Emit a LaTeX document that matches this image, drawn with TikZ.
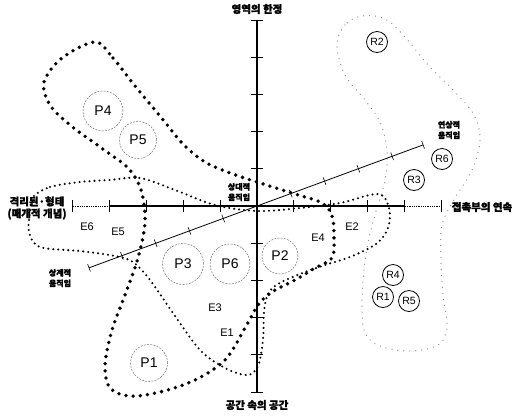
\documentclass[tikz,border=0pt]{standalone}
\usepackage{fontspec}
\setmainfont{Liberation Sans}
\newfontfamily\kr{Noto Sans CJK KR}[FakeBold=1.6]
\begin{document}
\begin{tikzpicture}[x=1pt,y=-1pt,
  heavy/.style={line width=3.8pt, dash pattern=on 0pt off 7.2pt, line cap=round},
  medium/.style={line width=2.3pt, dash pattern=on 0pt off 5pt, line cap=round},
  light/.style={line width=1.3pt, dash pattern=on 0pt off 6pt, line cap=round, black!45},
  pcirc/.style={circle, draw=black!55, dash pattern=on 2pt off 1.2pt, line width=0.5pt, inner sep=0pt, font=\fontsize{14}{14}\selectfont},
  rcirc/.style={circle, draw, line width=0.8pt, minimum size=21pt, inner sep=0pt, font=\fontsize{10.5}{10.5}\selectfont},
  elab/.style={font=\fontsize{11}{11}\selectfont},
  axlab/.style={font=\kr\bfseries\fontsize{10.5}{12}\selectfont, align=center, inner sep=0pt},
  sublab/.style={font=\kr\bfseries\fontsize{8}{10.5}\selectfont, align=center, inner sep=0pt},
  axis/.style={line width=1.3pt},
  tick/.style={line width=0.9pt}
]
\useasboundingbox (0,0) rectangle (518,416);
\fill[white] (0,0) rectangle (518,416);

% curves
\draw[light] plot[smooth cycle, tension=0.6] coordinates {
 (362,16) (345,25) (337,45) (345,75) (365,100) (380,122) (387,150) (385,180)
 (377,208) (369,238) (364,270) (362,305) (365,333) (380,346) (410,351)
 (438,345) (447,328) (443,295) (441,260) (442,225) (455,198) (472,170)
 (480,140) (474,115) (455,92) (428,65) (405,37) (385,19)};

\draw[medium] plot[smooth cycle, tension=0.55] coordinates {
 (33,197) (50,187) (80,182) (110,180) (140,178) (175,190) (215,205) (257,211)
 (300,208) (340,203) (378,194) (389,208) (388,228) (376,244) (350,257)
 (325,265) (300,274) (278,284) (268,294) (264,312) (263,340) (258,366)
 (247,375) (225,368) (200,350) (173,313) (150,280) (133,262) (115,256)
 (80,251) (40,247) (29,232) (30,212)};

\draw[heavy] plot[smooth cycle, tension=0.55] coordinates {
 (95,42) (113,58) (135,86) (160,116) (183,144) (205,162) (230,173) (257,182)
 (295,194) (322,203) (332,216) (334,238) (332,258) (315,268) (295,280)
 (272,292) (258,305) (245,328) (225,360) (195,380) (160,392) (130,396)
 (110,388) (105,365) (112,330) (125,295) (138,258) (145,222) (141,190)
 (128,168) (100,147) (70,125) (50,105) (44,82) (62,58)};

% axes
\coordinate (O) at (257,206);
\coordinate (vt) at (257,20);
\coordinate (vb) at (257,392);
\coordinate (hl) at (73,206);
\coordinate (hli) at (110,206);
\coordinate (hr) at (442,206);
\coordinate (hri) at (405,206);
\draw[axis] (vt) -- (vb);
\draw[line width=2pt] (hli) -- (hri);
\draw[line width=0.8pt, densely dotted] (hl) -- (hli);
\draw[line width=0.8pt, densely dotted] (hri) -- (hr);
\foreach \k in {0,1,2,3,4,6,7,8,9,10}
  \draw[tick] (251,20+37.2*\k) -- (263,20+37.2*\k);
\foreach \k in {-5,-4,-3,-2,-1,1,2,3,4,5}
  \draw[tick] (257+36.9*\k,200) -- (257+36.9*\k,212);

\begin{scope}[shift={(O)}, rotate=20.2]
  \coordinate (dl) at (-179,0);
  \coordinate (dr) at (177,0);
  \draw[line width=0.8pt] (dl) -- (dr);
  \foreach \t in {-179,-144,-108,-72,-36,36,72,108,144,177}
    \draw[line width=0.6pt] (\t,-4) -- (\t,4);
\end{scope}

% axis labels
\node[axlab] (top) at (257,9) {영역의 한정};
\node[axlab] (bot) at (257,405) {공간 속의 공간};
\node[axlab] (right) at (482,207) {접촉부의 연속};
\node[axlab] (left) at (37,208) {격리된·형태\\(매개적 개념)};
\node[sublab] (assoc) at (449,130) {연상적\\움직임};
\node[sublab] (rel) at (239,192) {상대적\\움직임};
\node[sublab] (sang) at (60,278) {상계적\\움직임};

% E labels
\node[elab] (E6) at (87,227) {E6};
\node[elab] (E5) at (118,232) {E5};
\node[elab] (E4) at (318,238) {E4};
\node[elab] (E2) at (352,227) {E2};
\node[elab] (E3) at (215,308) {E3};
\node[elab] (E1) at (227,333) {E1};

% P circles
\node[pcirc, minimum size=40pt] (P4) at (103,111) {P4};
\node[pcirc, minimum size=37pt] (P5) at (138,140) {P5};
\node[pcirc, minimum size=41pt] (P3) at (183,264) {P3};
\node[pcirc, minimum size=40pt] (P6) at (230,264) {P6};
\node[pcirc, minimum size=36pt] (P2) at (280,256) {P2};
\node[pcirc, minimum size=37pt] (P1) at (149,363) {P1};

% R circles
\node[rcirc] (R2) at (377,42) {R2};
\node[rcirc] (R6) at (442,159) {R6};
\node[rcirc] (R3) at (414,180) {R3};
\node[rcirc] (R4) at (393,275) {R4};
\node[rcirc] (R1) at (383,297) {R1};
\node[rcirc] (R5) at (409,301) {R5};
\end{tikzpicture}
\end{document}
